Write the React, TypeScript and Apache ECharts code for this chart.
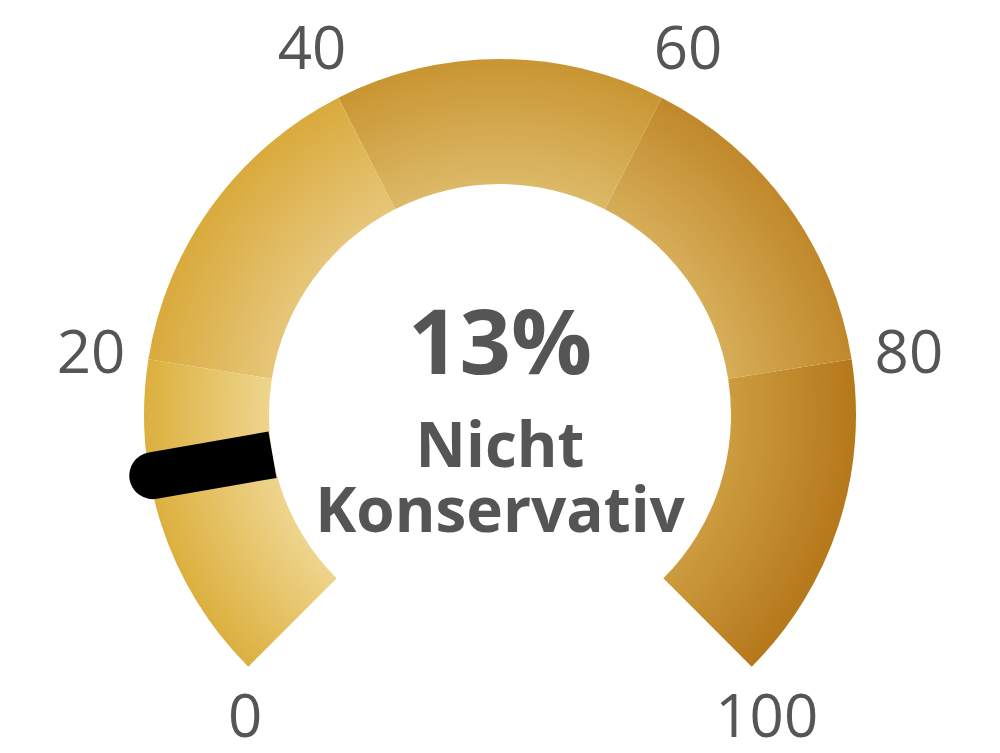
import { useEffect, useRef } from "react";
import * as echarts from "echarts";

// gauge reading
const SCORE = 13;
const SCORE_LABEL = "Nicht\nKonservativ";

// axis
const AXIS_MIN = 0;
const AXIS_MAX = 100;
const SPLIT_COUNT = 5;

// five bands, inner (light) and outer (dark) colour of each
const BAND_STOPS = [0.2, 0.4, 0.6, 0.8, 1];
const BAND_INNER = ["#eed58d", "#e6c679", "#dcb967", "#d6ad58", "#cc9c3e"];
const BAND_OUTER = ["#dcb03f", "#d9aa3c", "#c99532", "#c0882a", "#b5781b"];

const CX = 500;
const CY = 415;
const RADIUS = 356;
const BAND_WIDTH = 125;
const TEXT = "#555555";
const FONT = "'Open Sans', 'Noto Sans', sans-serif";

export default function App() {
  const chartRef = useRef<HTMLDivElement>(null);

  useEffect(() => {
    if (!chartRef.current) return;
    const chart = echarts.init(chartRef.current, undefined, { renderer: "svg" });

    const inner = (RADIUS - BAND_WIDTH) / RADIUS;
    const bandColors = BAND_STOPS.map((stop, i) => [
      stop,
      new echarts.graphic.RadialGradient(
        CX,
        CY,
        RADIUS,
        [
          { offset: inner, color: BAND_INNER[i] },
          { offset: 1, color: BAND_OUTER[i] },
        ],
        true
      ),
    ]);

    const tick = { color: TEXT, fontSize: 60, fontFamily: FONT };

    const option: any = {
      animation: false,
      series: [
        {
          type: "gauge",
          center: [CX, CY],
          radius: RADIUS,
          startAngle: 225,
          endAngle: -45,
          min: AXIS_MIN,
          max: AXIS_MAX,
          splitNumber: SPLIT_COUNT,
          axisLine: { lineStyle: { width: BAND_WIDTH, color: bandColors } },
          progress: { show: false },
          axisTick: { show: false },
          splitLine: { show: false, length: 0, distance: 0 },
          axisLabel: {
            distance: -58,
            rotate: 0.001, // non-zero rotate keeps labels centred on their anchor
            ...tick,
            formatter: (v: number) =>
              v === AXIS_MIN ? `{first|${v}}` : v === AXIS_MAX ? `{last|${v}}` : `{mid|${v}}`,
            rich: {
              mid: { ...tick },
              first: { ...tick, padding: [12, 0, 0, 76] },
              last: { ...tick, padding: [12, 52, 0, 0] },
            },
          },
          pointer: {
            icon: "path://M0,23.5 A23.5,23.5 0 0 1 47,23.5 L47,145 L0,145 Z",
            width: 47,
            length: 145,
            offsetCenter: [0, -(RADIUS - BAND_WIDTH)],
            itemStyle: { color: "#000000" },
          },
          anchor: { show: false },
          title: {
            offsetCenter: [0, 60],
            color: TEXT,
            fontSize: 62,
            fontWeight: "bold",
            lineHeight: 65,
            fontFamily: FONT,
          },
          detail: {
            offsetCenter: [0, -76],
            formatter: "{value}%",
            color: TEXT,
            fontSize: 90,
            fontWeight: "bold",
            fontFamily: FONT,
            valueAnimation: false,
          },
          data: [{ value: SCORE, name: SCORE_LABEL }],
        },
      ],
    };
    chart.setOption(option);

    return () => {
      chart.dispose();
    };
  }, []);

  return (
    <div
      ref={chartRef}
      style={{ position: "absolute", left: 0, top: 0, width: 1000, height: 753, background: "#fff" }}
    />
  );
}
